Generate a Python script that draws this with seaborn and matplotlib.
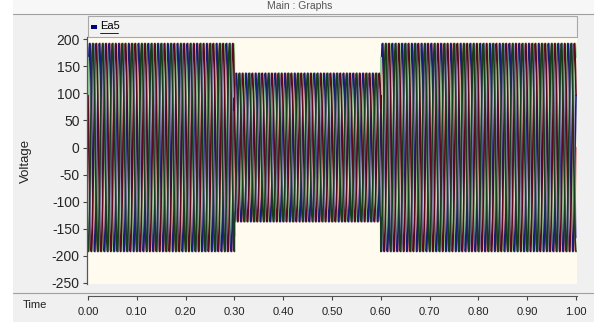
import numpy as np
import pandas as pd
import matplotlib
matplotlib.use("Agg")
import matplotlib.pyplot as plt
import seaborn as sns

# segments of the run: start/end times and peak voltage in each
seg_edges = [0.0, 0.30, 0.60, 1.00]
seg_peaks = [192, 137, 192]
freq_hz = 50
# six traces (two three-phase sets), phase in degrees
trace_names = ["a2", "a1", "b2", "b1", "c2", "c1"]
trace_phase = [0, 30, 120, 150, 240, 270]
trace_colors = ["#dc8888", "#1c1c78", "#94d096", "#5a0a1a", "#8a80b4", "#173d1d"]

y_ticks = [200, 150, 100, 50, 0, -50, -100, -150, -200, -250]
x_ticks = [0.0, 0.1, 0.2, 0.3, 0.4, 0.5, 0.6, 0.7, 0.8, 0.9, 1.0]

t = np.linspace(0, 1.0, 12001)
amp = np.select(
    [(t >= seg_edges[i]) & (t < seg_edges[i + 1]) for i in range(len(seg_peaks))],
    seg_peaks, default=seg_peaks[-1])

rows = []
for name, ph in zip(trace_names, trace_phase):
    v = amp * np.sin(2 * np.pi * freq_hz * t + np.deg2rad(ph))
    rows.append(pd.DataFrame({"Time": t, "Voltage": v, "trace": name}))
df = pd.concat(rows, ignore_index=True)

sns.set_style("white")
plt.rcParams["font.family"] = ["Liberation Sans", "DejaVu Sans"]

fig = plt.figure(figsize=(5.94, 3.22), dpi=100, facecolor="#f0f0f0")
W, H = 594, 322

def box(x0, y0, x1, y1):
    return [x0 / W, 1 - y1 / H, (x1 - x0) / W, (y1 - y0) / H]

# window frame bits
fig.patches.append(plt.Rectangle((0, 0), 13 / W, 1, transform=fig.transFigure,
                                 facecolor="white", edgecolor="none", zorder=0))
fig.patches.append(plt.Rectangle((13 / W, 1 - 14 / H), 1, 14 / H, transform=fig.transFigure,
                                 facecolor="#f7f7f7", edgecolor="none", zorder=0))
fig.lines.append(plt.Line2D([13 / W, 1], [1 - 14 / H] * 2, transform=fig.transFigure,
                            color="#a0a0a0", lw=0.8))
fig.lines.append(plt.Line2D([13 / W, 1], [1 - 293 / H] * 2, transform=fig.transFigure,
                            color="#a0a0a0", lw=0.8))
fig.text(300 / W, 1 - 6 / H, "Main : Graphs", ha="center", va="center",
         fontsize=7.5, color="#555555")

# legend strip
fig.patches.append(plt.Rectangle((88 / W, 1 - 37 / H), (577 - 88) / W, 21 / H,
                                 transform=fig.transFigure, facecolor="#f2f2f2",
                                 edgecolor="#a8a8a8", lw=0.8, zorder=1))
fig.patches.append(plt.Rectangle((91 / W, 1 - 29 / H), 6 / W, 4 / H,
                                 transform=fig.transFigure, facecolor="#00007f",
                                 edgecolor="none", zorder=2))
fig.text(100 / W, 1 - 26 / H, "Ea5", ha="left", va="center", fontsize=8,
         color="#000000", zorder=2)
fig.lines.append(plt.Line2D([100 / W, 118 / W], [1 - 33 / H] * 2,
                            transform=fig.transFigure, color="#000000", lw=0.6))

ax = fig.add_axes(box(88, 37, 577, 284))
ax.set_facecolor("#fffbef")
sns.lineplot(data=df, x="Time", y="Voltage", hue="trace", palette=trace_colors,
             hue_order=trace_names, estimator=None, sort=False, lw=1.2,
             legend=False, ax=ax)
ax.set_xlim(0, 1.002)
ax.set_ylim(-252, 204)
ax.set_yticks(y_ticks)
ax.set_yticklabels([str(v) for v in y_ticks], fontsize=8, color="#222222")
ax.set_xticks([])
ax.set_xlabel("")
ax.set_ylabel("Voltage", fontsize=9.5, color="#222222", labelpad=14)
ax.tick_params(axis="y", length=3, width=0.8, color="#444444", pad=2, left=True)
for s in ["top", "right", "bottom"]:
    ax.spines[s].set_visible(False)
ax.spines["left"].set_color("#555555")
ax.spines["left"].set_linewidth(0.9)
ax.spines["left"].set_position(("outward", 1))

# time axis strip
tax = fig.add_axes(box(88, 294, 577, 296))
tax.set_facecolor("none")
tax.set_xlim(0, 1.002)
tax.set_yticks([])
tax.set_xticks(x_ticks)
tax.set_xticklabels([f"{v:.2f}" for v in x_ticks], fontsize=8, color="#222222")
tax.tick_params(axis="x", length=3, width=0.8, color="#444444", pad=5, bottom=True)
for s in ["top", "right", "left"]:
    tax.spines[s].set_visible(False)
tax.spines["bottom"].set_color("#555555")
fig.text(35 / W, 1 - 305 / H, "Time", ha="center", va="center", fontsize=8,
         color="#222222")

fig.savefig("out.png", dpi=100, facecolor=fig.get_facecolor())
